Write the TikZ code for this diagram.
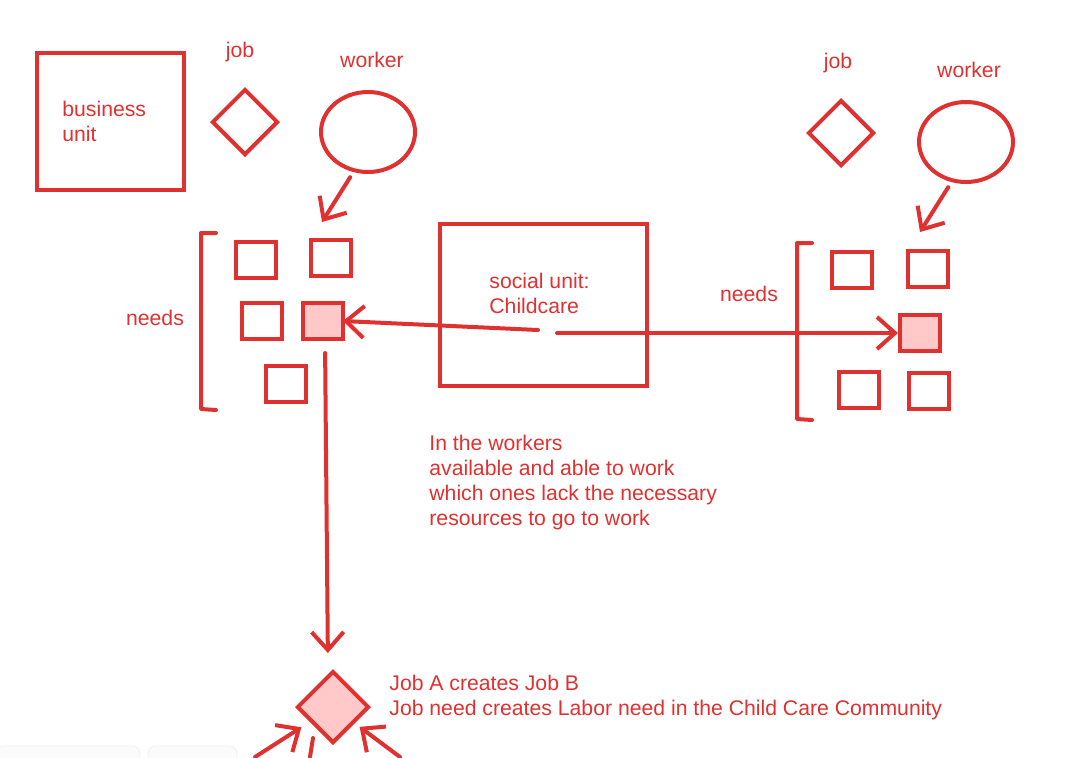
\documentclass[tikz,border=0pt]{standalone}
\usepackage{fontspec}
\setmainfont{Liberation Sans}
\usetikzlibrary{shapes.geometric,arrows.meta}
\definecolor{sketchred}{HTML}{E03131}
\definecolor{sketchpink}{HTML}{FFC9C9}

\tikzset{
    unitbox/.style={draw=sketchred, line width=2pt, rectangle, inner sep=0pt},
    needbox/.style={draw=sketchred, line width=2pt, rectangle, minimum width=20pt, minimum height=18pt, inner sep=0pt},
    needfilled/.style={needbox, fill=sketchpink},
    jobshape/.style={draw=sketchred, line width=2pt, diamond, aspect=1, minimum size=33pt, inner sep=0pt},
    workershape/.style={draw=sketchred, line width=2pt, ellipse, minimum width=47pt, minimum height=40pt, inner sep=0pt},
    sketchtext/.style={text=sketchred, font=\fontsize{10.6}{12.5}\selectfont, align=left, inner sep=0pt},
    sketcharrow/.style={draw=sketchred, line width=2pt, line cap=round, line join=round, -{Straight Barb[length=9pt,width=16pt,line width=2pt]}},
    sketchline/.style={draw=sketchred, line width=2pt, line cap=round, line join=round}
}

\begin{document}
\begin{tikzpicture}[x=0.5pt, y=-0.5pt]
    \useasboundingbox[fill=white] (0,0) rectangle (1090,757);

    % left worker
    \node[unitbox, minimum width=73.5pt, minimum height=68.5pt] (business) at (110,121) {};
    \node[sketchtext, anchor=north west] (businesstxt) at (62,101) {business\\unit};
    \node[sketchtext] (jobtxtA) at (240,52) {job};
    \node[jobshape] (jobA) at (245,122) {};
    \node[sketchtext] (workertxtA) at (372,60) {worker};
    \node[workershape] (workerA) at (368,132) {};

    \draw[sketchline] (216,233) -- (201,233) -- (201,409) -- (216,410);
    \node[sketchtext] (needstxtA) at (155,318) {needs};
    \node[needbox] (needA1) at (256,260) {};
    \node[needbox] (needA2) at (331,258) {};
    \node[needbox] (needA3) at (262,321) {};
    \node[needfilled] (needA4) at (323,321) {};
    \node[needbox] (needA5) at (286,384) {};
    \coordinate (tipA) at (322,222);
    \draw[sketcharrow, shorten <=3pt] (workerA.250) -- (tipA);

    % social unit
    \node[unitbox, minimum width=103.5pt, minimum height=81pt] (social) at (543,305) {};
    \node[sketchtext, anchor=north west] (socialtxt) at (489,273) {social unit:\\Childcare};
    \coordinate (fromleft) at (538,330);
    \coordinate (fromright) at (557,333);

    % right worker
    \node[sketchtext] (jobtxtB) at (838,63) {job};
    \node[jobshape] (jobB) at (841,133) {};
    \node[sketchtext] (workertxtB) at (969,70) {worker};
    \node[workershape] (workerB) at (966,142) {};

    \draw[sketchline] (812,243) -- (797,243) -- (797,419) -- (812,420);
    \node[sketchtext] (needstxtB) at (749,294) {needs};
    \node[needbox] (needB1) at (852,270) {};
    \node[needbox] (needB2) at (928,269) {};
    \node[needfilled] (needB3) at (920,333) {};
    \node[needbox] (needB4) at (859,390) {};
    \node[needbox] (needB5) at (929,391) {};
    \coordinate (tipB) at (920,232);
    \draw[sketcharrow, shorten <=3pt] (workerB.250) -- (tipB);

    \draw[sketcharrow] (fromleft) -- ([xshift=-1pt]needA4.east);
    \draw[sketcharrow] (fromright) -- (needB3.west);

    \node[sketchtext, anchor=north west] (question) at (429,435) {In the workers\\available and able to work\\which ones lack the necessary\\resources to go to work};

    % job created
    \node[jobshape, fill=sketchpink, minimum size=36pt] (jobC) at (333,707) {};
    \node[sketchtext, anchor=north west] (jobCtxt) at (389,675) {Job A creates Job B\\Job need creates Labor need in the Child Care Community};
    \draw[sketcharrow, shorten <=6pt, shorten >=8pt] ([xshift=1pt]needA4.south) -- ([xshift=2.5pt]needA4.south |- jobC.north);

    \coordinate (inA) at (255,757);
    \coordinate (inB) at (400,757);
    \coordinate (outC) at (310,757);
    \coordinate (outCstart) at (313,738);
    \draw[sketcharrow, shorten >=5pt] (inA) -- (jobC);
    \draw[sketcharrow, shorten >=3pt] (inB) -- (jobC);
    \draw[sketchline] (outCstart) -- (outC);

    % toolbar
    \draw[gray!12, fill=gray!3, rounded corners=4pt] (-5,746) rectangle (140,775);
    \draw[gray!12, fill=gray!3, rounded corners=4pt] (148,746) rectangle (237,775);
\end{tikzpicture}
\end{document}
